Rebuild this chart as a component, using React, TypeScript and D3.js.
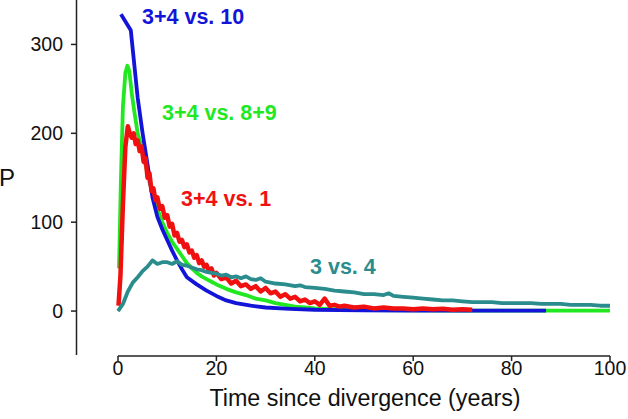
import React from "react";
import * as d3 from "d3";

const xTicks = [0, 20, 40, 60, 80, 100];
const yTicks = [0, 100, 200, 300];

const blueData: [number, number][] = [[0.6,334],[2.6,316],[4,240],[5,200],[6,165],[7,128],[8,106],[9,92],[10,80],[11,68],[12,57],[13,47],[14,38],[16,30],[18,23],[20,17],[22,12],[24,9],[27,6],[30,4],[35,2.5],[40,1.5],[50,0.8],[60,0.6],[70,0.5],[87,0.4]];

const greenData: [number, number][] = [[0.2,48],[0.6,150],[1,230],[1.5,268],[1.9,276],[2.3,270],[2.8,245],[3.3,225],[4,200],[4.6,188],[5.2,172],[5.8,160],[6.4,145],[7,134],[8,115],[9,100],[10,88],[11,78],[12,70],[13,62],[14,54],[15,48],[16,43],[17,39],[18,36],[19,33],[20,30],[22,25],[24,21],[26,18],[28,14],[30,12],[32,9],[34,7],[36,5],[38,4],[40,3],[45,2],[50,1],[60,0.8],[70,0.6],[80,0.5],[90,0.5],[100,0.5]];

const redData: [number, number][] = [[0.1,6],[0.5,40],[1,120],[1.5,185],[2,208],[2.4,200],[2.8,195],[3.2,200],[3.6,188],[4,192],[4.4,180],[4.8,185],[5.2,168],[5.6,172],[6,150],[6.4,155],[6.8,135],[7.2,138],[7.6,125],[8,128],[8.5,115],[9,118],[9.5,105],[10,108],[10.5,95],[11,98],[11.5,85],[12,88],[12.5,78],[13,80],[13.5,72],[14,75],[14.5,66],[15,68],[15.5,60],[16,63],[16.5,54],[17,57],[17.5,50],[18,52],[18.5,45],[19,48],[19.5,40],[20,43],[21,36],[22,38],[23,31],[24,34],[25,28],[26,30],[27,25],[28,28],[29,22],[30,26],[31,20],[32,22],[33,16],[34,19],[35,14],[36,16],[37,11],[38,13],[39,9],[40,11],[41,7],[42,14],[43,6],[44,7],[45,5],[46,6],[48,4],[50,5],[52,3],[54,4],[56,3],[58,3],[60,2],[62,3],[64,2],[66,2.5],[68,1.5],[70,2],[72,1.5]];

const tealData: [number, number][] = [[0,0],[1,8],[2,22],[3,32],[4,38],[5,45],[6,50],[7,57],[8,53],[9,55],[10,55],[11,53],[12,56],[13,52],[14,51],[15,49],[16,47],[17,46],[18,44],[19,43],[20,42],[21,40],[22,41],[23,38],[24,39],[25,37],[26,39],[27,36],[28,35],[29,37],[30,33],[32,31],[34,30],[36,28],[37,29],[38,27],[40,26],[42,25],[44,23],[46,22],[48,21],[50,19],[52,19],[54,18],[55,20],[56,17],[58,16],[60,15],[62,14],[64,13],[66,12],[68,12],[70,11],[72,10],[74,10],[76,10],[78,9],[80,9],[82,9],[84,9],[86,8],[88,8],[90,8],[92,7],[94,7],[96,7],[98,6],[100,6]];

const seriesNames = ["3+4 vs. 8+9", "3+4 vs. 10", "3+4 vs. 1", "3 vs. 4"];

export default function App() {
  const x = d3.scaleLinear().domain([0, 100]).range([118, 610]);
  const y = d3.scaleLinear().domain([-50, 350]).range([355.5, 0]);
  const line = d3.line<[number, number]>().x(d => x(d[0])).y(d => y(d[1]));
  const font = "Arial, 'Liberation Sans', sans-serif";
  const series = [
    { name: seriesNames[0], data: greenData, color: "#22e822", lx: 162, ly: 112, w: 3.8 },
    { name: seriesNames[1], data: blueData, color: "#1414d8", lx: 142, ly: 16, w: 3.8 },
    { name: seriesNames[2], data: redData, color: "#f01010", lx: 181, ly: 198, w: 4.5 },
    { name: seriesNames[3], data: tealData, color: "#2a8c8c", lx: 310, ly: 266, w: 3.8 },
  ];
  return (
    <svg width={628} height={419} style={{ position: "absolute", left: 0, top: 0, background: "#fff" }} fontFamily={font}>
      <line x1={76.5} x2={76.5} y1={0} y2={355} stroke="#222" strokeWidth={1.5} />
      {yTicks.map(t => (
        <g key={t}>
          <line x1={71} x2={76.5} y1={y(t)} y2={y(t)} stroke="#222" strokeWidth={1.5} />
          <text x={63} y={y(t)} dy="0.36em" textAnchor="end" fontSize={19.5} fill="#111">{t}</text>
        </g>
      ))}
      <line x1={x(0)} x2={x(100)} y1={356} y2={356} stroke="#222" strokeWidth={1.5} />
      {xTicks.map(t => (
        <g key={t}>
          <line x1={x(t)} x2={x(t)} y1={356} y2={361} stroke="#222" strokeWidth={1.5} />
          <text x={x(t)} y={368} dy="0.36em" textAnchor="middle" fontSize={19.5} fill="#111">{t}</text>
        </g>
      ))}
      <text x={365} y={398} dy="0.36em" textAnchor="middle" fontSize={23.3} fill="#111">Time since divergence (years)</text>
      <text x={-1} y={177} dy="0.36em" fontSize={24} fill="#111">P</text>
      {series.map(s => (
        <path key={s.name} d={line(s.data) || ""} fill="none" stroke={s.color} strokeWidth={s.w} strokeLinejoin="round" />
      ))}
      {series.map(s => (
        <text key={s.name + "l"} x={s.lx} y={s.ly} dy="0.36em" fontSize={21.5} fontWeight="bold" fill={s.color}>{s.name}</text>
      ))}
    </svg>
  );
}
